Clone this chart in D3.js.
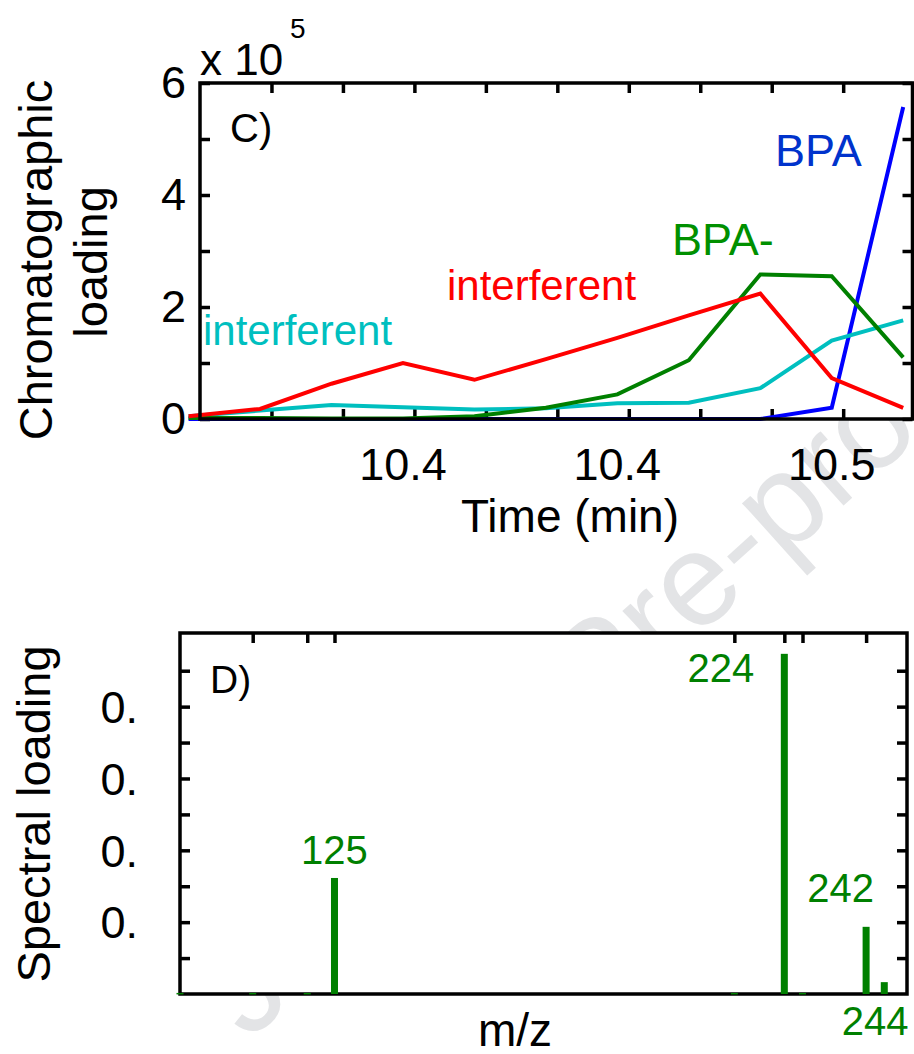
<!DOCTYPE html>
<html>
<head>
<meta charset="utf-8">
<script src="https://cdn.jsdelivr.net/npm/d3@7"></script>
<style>
body { margin: 0; background: #fff; }
svg { display: block; }
text { font-family: "Liberation Sans", Arial, Helvetica, sans-serif; }
</style>
</head>
<body>
<div id="chart"></div>
<script>
// ---- panel C : chromatographic loadings (x 10^5) ----
var times = [10.3684, 10.3784, 10.3884, 10.3984, 10.4084, 10.4184, 10.4284, 10.4384, 10.4484, 10.4584, 10.4684];
var bpa        = [0, 0, 0, 0, 0, 0, 0, 0, 0, 0.2, 5.57];
var bpaMinus   = [0.02, 0.02, 0.01, 0.01, 0.05, 0.2, 0.44, 1.05, 2.58, 2.55, 1.1];
var interfCyan = [0.05, 0.15, 0.25, 0.21, 0.17, 0.19, 0.28, 0.29, 0.55, 1.4, 1.76];
var interfRed  = [0.05, 0.18, 0.63, 1.0, 0.7, 1.07, 1.45, 1.85, 2.24, 0.73, 0.2];
var timeTicks = [10.38, 10.39, 10.40, 10.41, 10.42, 10.43, 10.44, 10.45, 10.46];
var timeLabelTimes = [10.3984, 10.4284, 10.4584];
var loadTicks = [0, 1, 2, 3, 4, 5, 6];

// ---- panel D : spectral loading ----
var mz = [91, 107, 119, 125, 213, 224, 228, 242, 246];
var spectral = [0.0003, 0.0003, 0.0003, 0.0323, 0.0003, 0.0947, 0.0003, 0.0187, 0.0033];
var mzTicks = [107, 119, 125, 213, 224, 228, 242];
var spectralTicks = [0.01, 0.02, 0.03, 0.04, 0.05, 0.06, 0.07, 0.08, 0.09];
var spectralLabelTicks = [0.02, 0.04, 0.06, 0.08];
var spectralTickText = ["0.", "0.", "0.", "0."];
var peakLabels = ["125", "224", "242", "244"];

var svg = d3.select("#chart").append("svg")
    .attr("width", 914)
    .attr("height", 1054);

// watermark behind everything
svg.append("text")
    .attr("transform", "translate(248,1042) rotate(-42)")
    .style("font-size", "132px")
    .attr("fill", "#e3e4e6")
    .text("Journal Pre-proof");

function styleAxis(g, size) {
    g.select(".domain").remove();
    g.selectAll("line").attr("stroke", "#000").attr("stroke-width", 3.5);
    g.selectAll("text").attr("fill", "#000").style("font-size", size + "px")
        .style("font-family", '"Liberation Sans", Arial, sans-serif');
}

// ================= panel C =================
var c = {left: 200, right: 912.5, top: 83, bottom: 419};
var xC = d3.scaleLinear().domain([10.37, 10.4697]).range([c.left, c.right]);
var yC = d3.scaleLinear().domain([0, 6]).range([c.bottom, c.top]);

svg.append("rect")
    .attr("x", c.left).attr("y", c.top)
    .attr("width", c.right - c.left).attr("height", c.bottom - c.top)
    .attr("fill", "#fff");

svg.append("g").attr("transform", `translate(${c.left},0)`)
    .call(d3.axisLeft(yC).tickValues(loadTicks).tickSizeInner(-10).tickSizeOuter(0)
        .tickPadding(14).tickFormat(d => d % 2 === 0 ? d : ""))
    .call(g => styleAxis(g, 45));
svg.append("g").attr("transform", `translate(${c.right},0)`)
    .call(d3.axisRight(yC).tickValues(loadTicks).tickSizeInner(-10).tickSizeOuter(0).tickFormat(""))
    .call(g => styleAxis(g, 45));
svg.append("g").attr("transform", `translate(0,${c.top})`)
    .call(d3.axisTop(xC).tickValues(timeTicks).tickSizeInner(-10).tickSizeOuter(0).tickFormat(""))
    .call(g => styleAxis(g, 45));
svg.append("g").attr("transform", `translate(0,${c.bottom})`)
    .call(d3.axisBottom(xC).tickValues(timeTicks).tickSizeInner(-10).tickSizeOuter(0).tickFormat(""))
    .call(g => styleAxis(g, 45));

svg.selectAll("text.xlabC")
    .data(timeLabelTimes).enter()
    .append("text")
    .attr("x", d => xC(d))
    .attr("y", 480)
    .attr("text-anchor", "middle")
    .style("font-size", "45px")
    .text(d => d3.format(".1f")(d));

// series
var seriesC = [
    {values: bpa, color: "#0000ff"},
    {values: interfCyan, color: "#00bfbf"},
    {values: bpaMinus, color: "#008000"},
    {values: interfRed, color: "#ff0000"}
];
var lineC = d3.line().x((d, i) => xC(times[i])).y(d => yC(d));
svg.selectAll("path.series")
    .data(seriesC).enter()
    .append("path")
    .attr("class", "series")
    .attr("d", d => lineC(d.values))
    .attr("fill", "none")
    .attr("stroke", d => d.color)
    .attr("stroke-width", 4);

// frame
svg.append("rect")
    .attr("x", c.left).attr("y", c.top)
    .attr("width", c.right - c.left).attr("height", c.bottom - c.top)
    .attr("fill", "none").attr("stroke", "#000").attr("stroke-width", 3.5);

// annotations
var annC = [
    {t: "C)", x: 230, y: 142, c: "#000", s: 40},
    {t: "BPA", x: 775, y: 166, c: "#0033cc", s: 45},
    {t: "BPA-", x: 672, y: 255, c: "#009000", s: 45},
    {t: "interferent", x: 447, y: 300, c: "#ff0000", s: 42},
    {t: "interferent", x: 203, y: 345, c: "#00bfbf", s: 42}
];
svg.selectAll("text.annC")
    .data(annC).enter()
    .append("text")
    .attr("x", d => d.x).attr("y", d => d.y)
    .attr("fill", d => d.c)
    .style("font-size", d => d.s + "px")
    .text(d => d.t);

svg.append("text").attr("x", 200).attr("y", 75).style("font-size", "44px").text("x 10");
svg.append("text").attr("x", 290).attr("y", 38).style("font-size", "28px").text("5");

svg.append("text")
    .attr("transform", "translate(52,260) rotate(-90)")
    .attr("text-anchor", "middle")
    .style("font-size", "47px")
    .text("Chromatographic");
svg.append("text")
    .attr("transform", "translate(107,262) rotate(-90)")
    .attr("text-anchor", "middle")
    .style("font-size", "47px")
    .text("loading");
svg.append("text")
    .attr("x", 570).attr("y", 532)
    .attr("text-anchor", "middle")
    .style("font-size", "46px")
    .text("Time (min)");

// ================= panel D =================
var p = {left: 180, right: 907, top: 633, bottom: 994};
var xD = d3.scaleLinear().domain([91, 251]).range([p.left, p.right]);
var yD = d3.scaleLinear().domain([0, 0.1005]).range([p.bottom, p.top]);

svg.append("rect")
    .attr("x", p.left).attr("y", p.top)
    .attr("width", p.right - p.left).attr("height", p.bottom - p.top)
    .attr("fill", "#fff");

svg.append("g").attr("transform", `translate(${p.left},0)`)
    .call(d3.axisLeft(yD).tickValues(spectralTicks).tickSizeInner(-10).tickSizeOuter(0).tickFormat(""))
    .call(g => styleAxis(g, 45));
svg.append("g").attr("transform", `translate(${p.right},0)`)
    .call(d3.axisRight(yD).tickValues(spectralTicks).tickSizeInner(-10).tickSizeOuter(0).tickFormat(""))
    .call(g => styleAxis(g, 45));
svg.append("g").attr("transform", `translate(0,${p.top})`)
    .call(d3.axisTop(xD).tickValues(mzTicks).tickSizeInner(-10).tickSizeOuter(0).tickFormat(""))
    .call(g => styleAxis(g, 45));

svg.selectAll("text.ylabD")
    .data(spectralLabelTicks).enter()
    .append("text")
    .attr("x", 138)
    .attr("y", d => yD(d))
    .attr("dy", "0.36em")
    .attr("text-anchor", "end")
    .style("font-size", "45px")
    .text((d, i) => spectralTickText[i]);

svg.append("rect")
    .attr("x", p.left).attr("y", p.top)
    .attr("width", p.right - p.left).attr("height", p.bottom - p.top)
    .attr("fill", "none").attr("stroke", "#000").attr("stroke-width", 3.5);

svg.selectAll("rect.bar")
    .data(mz).enter()
    .append("rect")
    .attr("x", d => xD(d) - 3.5)
    .attr("width", 7)
    .attr("y", (d, i) => yD(spectral[i]))
    .attr("height", (d, i) => Math.max(1.5, yD(0) - yD(spectral[i])))
    .attr("fill", "#008000");

// peak labels
var peakPos = [
    {x: xD(125), y: 864, a: "middle"},
    {x: xD(224) - 30, y: 682, a: "end"},
    {x: xD(242) + 8, y: 902, a: "end"},
    {x: xD(244), y: 1035, a: "middle"}
];
svg.selectAll("text.peak")
    .data(peakLabels).enter()
    .append("text")
    .attr("x", (d, i) => peakPos[i].x)
    .attr("y", (d, i) => peakPos[i].y)
    .attr("text-anchor", (d, i) => peakPos[i].a)
    .attr("fill", "#008000")
    .style("font-size", "40px")
    .text(d => d);

svg.append("text").attr("x", 210).attr("y", 693).style("font-size", "39px").text("D)");

svg.append("text")
    .attr("transform", "translate(50,814) rotate(-90)")
    .attr("text-anchor", "middle")
    .style("font-size", "47px")
    .text("Spectral loading");
svg.append("text")
    .attr("x", 515).attr("y", 1046)
    .attr("text-anchor", "middle")
    .style("font-size", "46px")
    .text("m/z");
</script>
</body>
</html>
